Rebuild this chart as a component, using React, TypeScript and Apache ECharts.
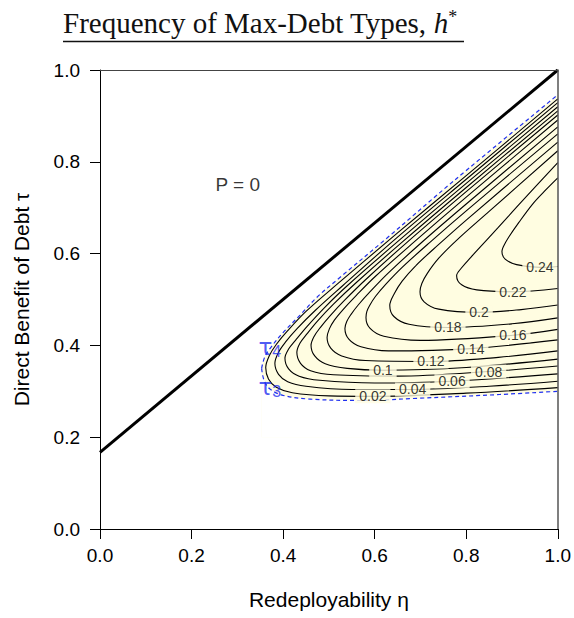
import React, { useEffect, useRef } from 'react';
import * as echarts from 'echarts';

// ---- axis ticks ----
const xTickValues = [0, 0.2, 0.4, 0.6, 0.8, 1.0];
const yTickValues = [0, 0.2, 0.4, 0.6, 0.8, 1.0];

// ---- P = 0 boundary (thick black line) ----
const pZeroLine = [[0, 0.167], [1, 1.0]];

// ---- tau4 (upper dashed boundary) and tau3 (lower dashed boundary) ----
const tau4 = [[0.353, 0.35], [0.36, 0.375], [0.375, 0.398], [0.40, 0.428], [0.437, 0.466], [0.474, 0.505], [0.524, 0.548], [0.627, 0.634], [0.771, 0.757], [1, 0.946]];
const tau3 = [[0.353, 0.35], [0.358, 0.325], [0.37, 0.306], [0.40, 0.291], [0.459, 0.283], [0.568, 0.280], [0.699, 0.285], [0.873, 0.293], [1, 0.300]];

// ---- contour lines (eta, tau) ----
const c02 = [[1, 0.937], [0.8, 0.770], [0.65, 0.645], [0.52, 0.535], [0.45, 0.474], [0.41, 0.432], [0.385, 0.402], [0.37, 0.378], [0.362, 0.352], [0.368, 0.327], [0.385, 0.309], [0.42, 0.297], [0.5, 0.290], [0.596, 0.289], [0.8, 0.296], [1, 0.308]];
const c04 = [[1, 0.929], [0.8, 0.762], [0.65, 0.636], [0.53, 0.530], [0.47, 0.476], [0.43, 0.436], [0.405, 0.407], [0.39, 0.385], [0.382, 0.361], [0.39, 0.337], [0.41, 0.321], [0.45, 0.311], [0.55, 0.304], [0.683, 0.304], [0.85, 0.311], [1, 0.322]];
const c06 = [[1, 0.920], [0.8, 0.753], [0.65, 0.626], [0.54, 0.530], [0.49, 0.482], [0.452, 0.441], [0.427, 0.411], [0.412, 0.392], [0.404, 0.372], [0.412, 0.349], [0.435, 0.333], [0.48, 0.324], [0.6, 0.318], [0.769, 0.322], [1, 0.338]];
const c08 = [[1, 0.911], [0.8, 0.744], [0.66, 0.625], [0.56, 0.537], [0.51, 0.490], [0.475, 0.453], [0.452, 0.425], [0.437, 0.405], [0.430, 0.385], [0.438, 0.361], [0.46, 0.345], [0.51, 0.336], [0.65, 0.333], [0.849, 0.343], [1, 0.355]];
const c10 = [[1, 0.902], [0.8, 0.735], [0.67, 0.624], [0.58, 0.543], [0.535, 0.499], [0.503, 0.465], [0.482, 0.440], [0.468, 0.420], [0.461, 0.400], [0.469, 0.377], [0.492, 0.360], [0.54, 0.350], [0.618, 0.346], [0.8, 0.352], [1, 0.370]];
const c12 = [[1, 0.891], [0.8, 0.723], [0.68, 0.620], [0.60, 0.549], [0.56, 0.509], [0.53, 0.477], [0.512, 0.455], [0.501, 0.436], [0.496, 0.417], [0.504, 0.394], [0.528, 0.377], [0.58, 0.367], [0.723, 0.365], [0.87, 0.374], [1, 0.388]];
const c14 = [[1, 0.876], [0.8, 0.708], [0.70, 0.622], [0.63, 0.558], [0.59, 0.517], [0.564, 0.488], [0.548, 0.467], [0.539, 0.452], [0.535, 0.437], [0.544, 0.413], [0.57, 0.397], [0.63, 0.388], [0.81, 0.393], [1, 0.412]];
const c16 = [[1, 0.861], [0.8, 0.693], [0.72, 0.624], [0.66, 0.570], [0.625, 0.534], [0.602, 0.507], [0.589, 0.487], [0.583, 0.474], [0.581, 0.461], [0.59, 0.437], [0.62, 0.42], [0.7, 0.411], [0.902, 0.422], [1, 0.435]];
const c18 = [[1, 0.843], [0.8, 0.673], [0.74, 0.620], [0.69, 0.574], [0.66, 0.540], [0.643, 0.513], [0.633, 0.487], [0.642, 0.463], [0.675, 0.446], [0.76, 0.439], [0.9, 0.447], [1, 0.460]];
const c20 = [[1, 0.824], [0.85, 0.692], [0.78, 0.630], [0.74, 0.590], [0.715, 0.557], [0.703, 0.535], [0.699, 0.517], [0.708, 0.495], [0.74, 0.479], [0.828, 0.472], [0.92, 0.478], [1, 0.488]];
const c22 = [[1, 0.798], [0.92, 0.712], [0.87, 0.657], [0.845, 0.630], [0.81, 0.592], [0.789, 0.568], [0.779, 0.552], [0.79, 0.532], [0.823, 0.521], [0.902, 0.517], [1, 0.524]];
const c24 = [[1, 0.765], [0.97, 0.735], [0.945, 0.708], [0.915, 0.668], [0.893, 0.636], [0.881, 0.615], [0.878, 0.605], [0.885, 0.588], [0.91, 0.576], [0.961, 0.570], [1, 0.572]];

const contourLines = [c02, c04, c06, c08, c10, c12, c14, c16, c18, c20, c22, c24];

// ---- contour labels ----
const labelTexts = ['0.02', '0.04', '0.06', '0.08', '0.1', '0.12', '0.14', '0.16', '0.18', '0.2', '0.22', '0.24'];
const labelEta = [0.596, 0.683, 0.769, 0.849, 0.618, 0.723, 0.810, 0.902, 0.760, 0.828, 0.902, 0.961];
const labelTau = [0.289, 0.304, 0.322, 0.343, 0.346, 0.365, 0.393, 0.422, 0.439, 0.472, 0.517, 0.570];

// ---- annotations ----
const pZeroText = { text: 'P = 0', eta: 0.301, tau: 0.75 };
const tauLabels = [
  { text: '{t|τ}{s|4}', eta: 0.371, tau: 0.396 },
  { text: '{t|τ}{s|3}', eta: 0.371, tau: 0.309 },
];

const FILL = '#FFFDE1';
const SANS = 'Liberation Sans, Arial, Helvetica, sans-serif';
const SERIF = 'Liberation Serif, Times New Roman, serif';
const BLUE = '#1f2ff0';

function buildOption() {
  const contourSeries = contourLines.map((pts, i) => ({
    type: 'line',
    name: 'h' + labelTexts[i],
    data: pts,
    smooth: 0.35,
    showSymbol: false,
    symbol: 'none',
    silent: true,
    z: 3,
    lineStyle: { color: '#000', width: 1.1 },
  }));

  return {
    animation: false,
    backgroundColor: '#fff',
    grid: { left: 100, top: 70, width: 458, height: 459, show: false },
    graphic: [
      {
        type: 'text',
        left: 63,
        top: 8,
        style: {
          text: '{n|Frequency of Max-Debt Types, }{i|h}{s|*}',
          rich: {
            n: { fontFamily: SERIF, fontSize: 29, fill: '#111' },
            i: { fontFamily: SERIF, fontSize: 29, fontStyle: 'italic', fill: '#111' },
            s: { fontFamily: SERIF, fontSize: 18, fill: '#111', padding: [0, 0, 12, 0] },
          },
        },
      },
      {
        type: 'line',
        shape: { x1: 63, y1: 41.5, x2: 464, y2: 41.5 },
        style: { stroke: '#111', lineWidth: 1.3 },
      },
    ],
    xAxis: [
      {
        type: 'value', min: 0, max: 1, interval: 0.2, position: 'bottom', z: 10,
        axisLine: { show: true, onZero: false, lineStyle: { color: '#000', width: 1 } },
        axisTick: { show: true, length: 10, lineStyle: { color: '#000' } },
        axisLabel: {
          margin: 17, fontSize: 19, color: '#000', fontFamily: SANS,
          formatter: (v: number) => (xTickValues.some((t) => Math.abs(t - v) < 1e-9) ? v.toFixed(1) : ''),
        },
        splitLine: { show: false },
        name: 'Redeployability η', nameLocation: 'middle', nameGap: 60,
        nameTextStyle: { fontSize: 21, color: '#000', fontFamily: SANS },
      },
      {
        type: 'value', min: 0, max: 1, position: 'top', z: 10,
        axisLine: { show: true, onZero: false, lineStyle: { color: '#444', width: 1.2 } },
        axisTick: { show: false }, axisLabel: { show: false }, splitLine: { show: false },
      },
    ],
    yAxis: [
      {
        type: 'value', min: 0, max: 1, interval: 0.2, position: 'left', z: 10,
        axisLine: { show: true, onZero: false, lineStyle: { color: '#000', width: 1 } },
        axisTick: { show: true, length: 10, lineStyle: { color: '#000' } },
        axisLabel: {
          margin: 20, fontSize: 19, color: '#000', fontFamily: SANS,
          formatter: (v: number) => (yTickValues.some((t) => Math.abs(t - v) < 1e-9) ? v.toFixed(1) : ''),
        },
        splitLine: { show: false },
        name: 'Direct Benefit of Debt τ', nameLocation: 'middle', nameGap: 68,
        nameTextStyle: { fontSize: 21, color: '#000', fontFamily: SANS },
      },
      {
        type: 'value', min: 0, max: 1, position: 'right', z: 10,
        axisLine: { show: true, onZero: false, lineStyle: { color: '#555', width: 1.5 } },
        axisTick: { show: false }, axisLabel: { show: false }, splitLine: { show: false },
      },
    ],
    series: [
      {
        type: 'line', name: 'tau4', data: tau4, smooth: 0.35, symbol: 'none', silent: true, z: 1,
        lineStyle: { color: BLUE, width: 1.2, type: [4, 3] },
        areaStyle: { color: FILL, opacity: 1, origin: 0.2 },
      },
      {
        type: 'line', name: 'tau3', data: tau3, smooth: 0.35, symbol: 'none', silent: true, z: 1,
        lineStyle: { color: BLUE, width: 1.2, type: [4, 3] },
        areaStyle: { color: '#ffffff', opacity: 1, origin: 0.2 },
      },
      ...contourSeries,
      {
        type: 'line', name: 'P=0', data: pZeroLine, symbol: 'none', silent: true, z: 4,
        lineStyle: { color: '#000', width: 3 },
      },
      {
        type: 'scatter', name: 'labels', symbolSize: 1, silent: true, z: 6,
        itemStyle: { color: 'rgba(0,0,0,0)' },
        data: labelTexts.map((t, i) => ({ name: t, value: [labelEta[i], labelTau[i]] })),
        label: {
          show: true, position: 'inside', formatter: '{b}', color: '#000', fontSize: 14,
          fontFamily: SANS, backgroundColor: FILL, padding: [0, 4],
        },
      },
      {
        type: 'scatter', name: 'pzero', symbolSize: 1, silent: true, z: 6,
        itemStyle: { color: 'rgba(0,0,0,0)' },
        data: [{ name: pZeroText.text, value: [pZeroText.eta, pZeroText.tau] }],
        label: { show: true, position: 'inside', formatter: '{b}', color: '#000', fontSize: 19, fontFamily: SANS },
      },
      {
        type: 'scatter', name: 'taus', symbolSize: 1, silent: true, z: 6,
        itemStyle: { color: 'rgba(0,0,0,0)' },
        data: tauLabels.map((t) => ({ name: t.text, value: [t.eta, t.tau] })),
        label: {
          show: true, position: 'inside', formatter: '{b}',
          rich: {
            t: { fontSize: 23, color: BLUE, fontFamily: 'DejaVu Sans, sans-serif' },
            s: { fontSize: 16, color: BLUE, fontFamily: SANS, padding: [9, 0, 0, 0] },
          },
        },
      },
    ],
  };
}

export default function App() {
  const ref = useRef<HTMLDivElement>(null);
  useEffect(() => {
    if (!ref.current) return;
    const chart = echarts.init(ref.current, null, { renderer: 'svg' });
    chart.setOption(buildOption() as any);
    return () => chart.dispose();
  }, []);
  return (
    <div
      ref={ref}
      style={{ position: 'fixed', left: 0, top: 0, width: 574, height: 618, background: '#fff' }}
    />
  );
}
